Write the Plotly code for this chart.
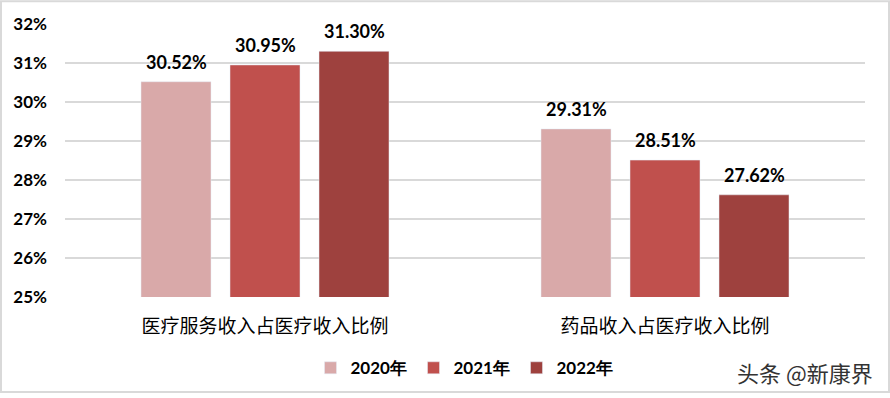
import plotly.graph_objects as go

categories = ["医疗服务收入占医疗收入比例", "药品收入占医疗收入比例"]
years = ["2020年", "2021年", "2022年"]
values_2020 = [30.52, 29.31]
values_2021 = [30.95, 28.51]
values_2022 = [31.30, 27.62]
series = [values_2020, values_2021, values_2022]
colors = ["#D9A9A9", "#C0504D", "#9E413E"]

num_font = "Lato, Open Sans, sans-serif"

fig = go.Figure()
for name, vals, col in zip(years, series, colors):
    fig.add_trace(go.Bar(x=categories, y=vals, name=name, marker_color=col))

# data labels placed above each bar (bar slot offsets in pixels)
slot_px = 89
annotations = []
for i, (vals, col) in enumerate(zip(series, colors)):
    for cat, v in zip(categories, vals):
        annotations.append(dict(
            x=cat, y=v, xref="x", yref="y", text=f"{v:.2f}%", showarrow=False,
            xanchor="center", yanchor="bottom", xshift=(i - 1) * slot_px, yshift=7,
            font=dict(family=num_font, size=18, color="#000000", weight="bold")))

annotations.append(dict(text="头条 @新康界", xref="paper", yref="paper", x=1.0125, y=-0.275,
                        xanchor="right", yanchor="middle", showarrow=False,
                        font=dict(family="Noto Sans CJK SC", size=22, color="#333333")))

fig.update_layout(
    width=890, height=398,
    margin=dict(l=65, r=25, t=24, b=98),
    paper_bgcolor="white", plot_bgcolor="white",
    barmode="group", bargap=0.3325, bargroupgap=0.2135,
    showlegend=True,
    legend=dict(orientation="h", x=0.5, xanchor="center", y=-0.195, yanchor="top",
                font=dict(family=num_font, size=17, color="#000000", weight="bold"),
                itemwidth=30, entrywidth=58, entrywidthmode="pixels", traceorder="normal"),
    xaxis=dict(showline=False, ticks="", ticklabelstandoff=16,
               tickfont=dict(family="Noto Sans CJK SC", size=19, color="#000000")),
    yaxis=dict(range=[25, 32], dtick=1, ticksuffix="%", showgrid=True, gridcolor="#D9D9D9", gridwidth=1.5,
               zeroline=False, showline=False, ticks="",
               tickfont=dict(family=num_font, size=17, color="#000000", weight="bold"),
               ticklabelstandoff=17),
    annotations=annotations,
    shapes=[dict(type="rect", xref="paper", yref="paper",
                 x0=-64/800, x1=1 + 24/800, y0=-96/276, y1=1 + 23/276,
                 line=dict(color="#D9D9D9", width=2), fillcolor="rgba(0,0,0,0)", layer="below")],
)

fig.write_html("out.html")
